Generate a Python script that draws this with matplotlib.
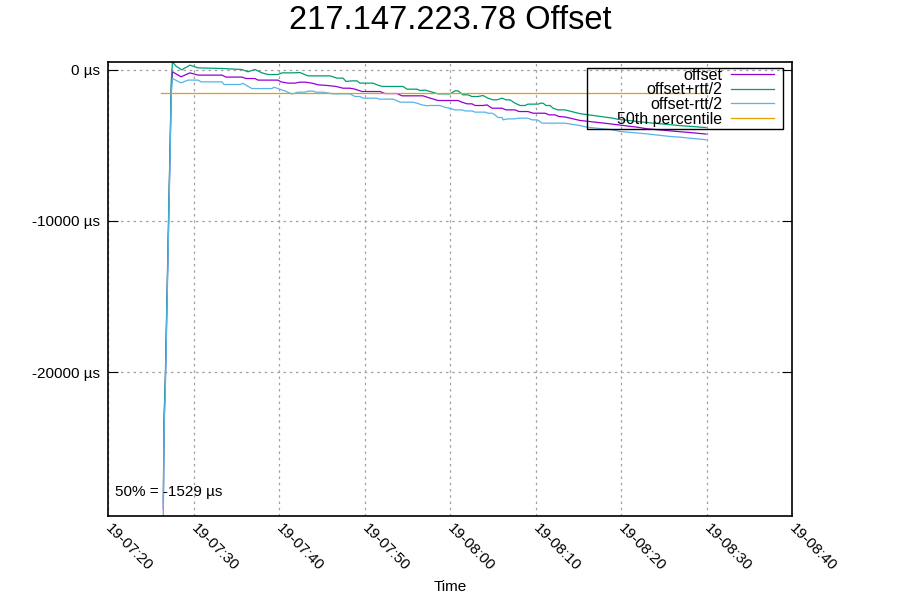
import numpy as np
import pandas as pd
import matplotlib; matplotlib.use('Agg'); import matplotlib.pyplot as plt
import matplotlib.dates as mdates
from matplotlib.patches import Rectangle
from matplotlib.ticker import MultipleLocator, FuncFormatter

plt.rcParams['font.family'] = ['Liberation Sans', 'DejaVu Sans']

# minutes after 19 07:20, values in microseconds
t_off = [6.47, 6.55, 6.70, 6.82, 6.94, 7.05, 7.17, 7.29, 7.40, 7.54, 8.54, 9.59, 10.53, 13.33, 13.80,
         15.67, 16.14, 17.19, 17.54, 19.88, 20.23, 21.05, 21.87, 22.46, 23.04, 23.86, 24.56, 25.73,
         26.67, 27.49, 28.30, 28.89, 29.71, 31.81, 32.40, 33.80, 34.39, 36.84, 37.66, 38.60, 40.94,
         41.40, 41.99, 42.57, 42.92, 43.86, 44.33, 44.91, 46.08, 46.55, 47.60, 48.07, 49.12, 49.71,
         51.11, 51.58, 52.28, 52.75, 53.45, 55.20, 58.36, 61.87, 63.04, 66.55, 68.07, 69.94]
v_off = [-29080, -23500, -20850, -17540, -14230, -11140, -7830, -4520, -1210, -130, -460, -200, -350,
         -350, -480, -480, -575, -575, -680, -680, -795, -880, -880, -815, -815, -880, -990, -1040,
         -1100, -1215, -1215, -1280, -1435, -1435, -1570, -1570, -1720, -1720, -1870, -2030, -2030,
         -2140, -2250, -2250, -2360, -2360, -2320, -2540, -2540, -2650, -2650, -2760, -2760, -2870,
         -2870, -2980, -2980, -3090, -3120, -3350, -3550, -3795, -3900, -4080, -4150, -4250]

t_hi = [6.47, 6.55, 6.70, 6.82, 6.94, 7.05, 7.17, 7.29, 7.40, 7.54, 7.95, 8.62, 9.59, 10.53, 13.33,
        15.67, 16.37, 17.19, 18.01, 18.71, 19.88, 20.35, 21.52, 22.46, 22.81, 23.39, 25.96, 26.78,
        27.49, 27.84, 28.54, 29.12, 29.47, 30.99, 31.46, 32.05, 34.50, 34.97, 36.14, 36.49, 37.08,
        37.66, 38.60, 40.00, 40.58, 40.94, 41.52, 42.11, 42.57, 43.27, 43.86, 44.44, 45.03, 45.50,
        46.08, 46.55, 47.02, 47.60, 48.19, 48.77, 49.12, 50.29, 50.64, 50.88, 51.23, 51.70, 52.05,
        52.63, 53.45, 55.20, 59.06, 59.53, 63.04, 66.90, 69.94]
v_hi = [-28630, -23050, -20400, -17090, -13780, -10690, -7380, -4070, -760, 520, 250, 0, 310, 130, 90,
        20, -130, 20, -200, -310, -310, -200, -200, -180, -265, -400, -400, -550, -550, -770, -730,
        -730, -880, -880, -990, -1100, -1100, -1280, -1280, -1370, -1340, -1435, -1590, -1590, -1390,
        -1390, -1655, -1655, -1765, -1765, -1700, -1875, -1985, -1985, -1875, -1985, -1985, -2205,
        -2360, -2360, -2270, -2270, -2205, -2205, -2360, -2360, -2540, -2650, -2650, -2900, -3200,
        -3265, -3490, -3690, -3820]

t_lo = [6.47, 6.55, 6.70, 6.82, 6.94, 7.05, 7.17, 7.29, 7.40, 7.54, 8.54, 9.36, 10.53, 10.88, 13.33,
        13.57, 15.44, 15.79, 16.84, 19.18, 19.42, 20.70, 21.52, 22.22, 23.04, 23.39, 23.98, 24.33,
        25.15, 26.32, 27.37, 28.30, 28.89, 29.47, 29.82, 31.46, 31.70, 33.33, 33.80, 34.15, 35.67,
        36.14, 36.73, 37.31, 37.66, 38.83, 39.42, 40.00, 40.58, 41.40, 41.75, 42.57, 42.92, 44.09,
        44.44, 44.91, 45.26, 45.61, 46.08, 46.20, 46.78, 47.60, 47.95, 49.12, 49.59, 50.18, 50.53,
        50.76, 53.45, 55.20, 56.02, 59.06, 59.88, 63.04, 65.73, 66.90, 69.94]
v_lo = [-29530, -23950, -21300, -17990, -14680, -11590, -8280, -4970, -1660, -575, -860, -680, -680,
        -795, -795, -970, -970, -900, -1240, -1240, -1150, -1400, -1600, -1480, -1480, -1410, -1410,
        -1480, -1480, -1590, -1590, -1590, -1765, -1765, -1875, -1875, -1940, -1940, -2040, -2140,
        -2140, -2210, -2320, -2380, -2360, -2360, -2480, -2540, -2650, -2650, -2720, -2720, -2800,
        -2800, -2870, -2870, -2980, -3155, -3155, -3310, -3245, -3245, -3200, -3200, -3310, -3310,
        -3420, -3530, -3530, -3690, -3795, -3970, -4080, -4240, -4410, -4455, -4630]

pct_span = [6.20, 69.94]
pct_value = -1529
x_range = [0, 80]

base = pd.Timestamp('2019-01-19 07:20:00')
tm = lambda m: base + pd.to_timedelta(np.asarray(m), unit='min')

fig = plt.figure(figsize=(9, 6), dpi=100)
ax = fig.add_axes([0.12, 0.14, 0.76, 0.7567])

ax.plot(tm(t_off), v_off, color='#9400d3', lw=0.9, label='offset')
ax.plot(tm(t_hi), v_hi, color='#009e73', lw=0.9, label='offset+rtt/2')
ax.plot(tm(t_lo), v_lo, color='#56b4e9', lw=0.9, label='offset-rtt/2')
ax.plot(tm(pct_span), [pct_value] * 2, color='#e69f00', lw=0.9, label='50th percentile')

ax.set_xlim(tm(x_range))
ax.set_ylim(min(v_lo + v_off + v_hi), max(v_lo + v_off + v_hi))
ax.xaxis.set_major_locator(mdates.MinuteLocator(byminute=range(0, 60, 10)))
ax.xaxis.set_major_formatter(mdates.DateFormatter('%d-%H:%M'))
ax.yaxis.set_major_locator(MultipleLocator(10000))
ax.yaxis.set_major_formatter(FuncFormatter(lambda v, p: f'{v:.0f} µs'))
ax.tick_params(axis='y', direction='in', length=7, labelsize=11, right=True, pad=6)
ax.tick_params(axis='x', length=0, labelsize=11, pad=7)
for lab in ax.get_xticklabels():
    lab.set_rotation(-45); lab.set_ha('left'); lab.set_va('center'); lab.set_rotation_mode('anchor')
ax.grid(True, color='#a0a0a0', ls=(0, (2, 3)), lw=0.9)
for s in ax.spines.values():
    s.set_linewidth(1.2)

ax.set_xlabel('Time', fontsize=11)
ax.xaxis.set_label_coords(0.5, -0.141)
ax.set_title('217.147.223.78 Offset', fontsize=23.5, pad=24)
ax.text(0.01, 0.053, f'50% = {pct_value} µs', transform=ax.transAxes, fontsize=11, va='center')

# key: frameless legend plus a plain box around it, like gnuplot
leg = ax.legend(loc='upper right', bbox_to_anchor=(0.9737, 0.9868), fontsize=11.5, markerfirst=False,
                frameon=False, handlelength=2.7, labelspacing=-0.03, borderpad=0, handletextpad=0.56,
                borderaxespad=0)
leg._legend_box._children[-1]._children[0].align = 'right'
ax.add_patch(Rectangle((0.7003, 0.8524), 0.2865, 0.1344, transform=ax.transAxes, fill=False,
                       edgecolor='black', lw=1.0, zorder=5))

fig.savefig('out.png', dpi=100)
